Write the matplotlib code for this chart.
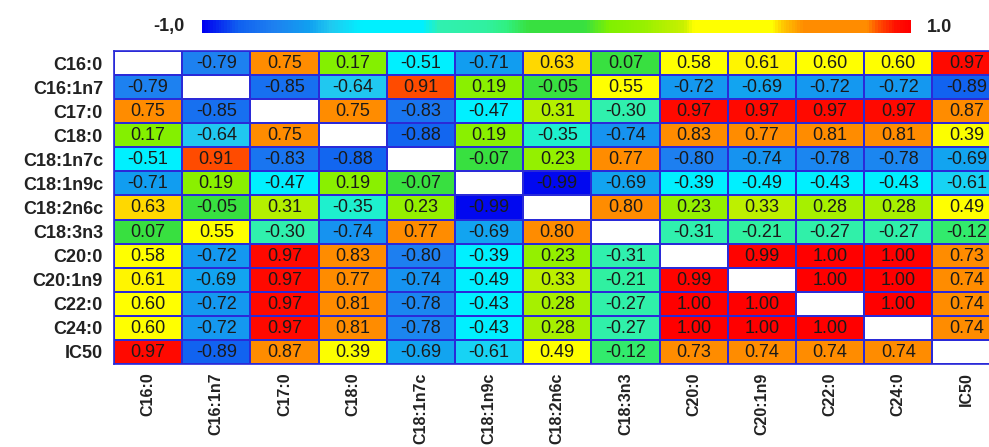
import numpy as np
import matplotlib
matplotlib.use("Agg")
import matplotlib.pyplot as plt
from matplotlib.colors import LinearSegmentedColormap

plt.rcParams['font.family'] = ['Liberation Sans', 'DejaVu Sans']

labels = ['C16:0', 'C16:1n7', 'C17:0', 'C18:0', 'C18:1n7c', 'C18:1n9c',
          'C18:2n6c', 'C18:3n3', 'C20:0', 'C20:1n9', 'C22:0', 'C24:0', 'IC50']

nan = np.nan
r_c16_0   = [nan, -0.79, 0.75, 0.17, -0.51, -0.71, 0.63, 0.07, 0.58, 0.61, 0.60, 0.60, 0.97]
r_c16_1n7 = [-0.79, nan, -0.85, -0.64, 0.91, 0.19, -0.05, 0.55, -0.72, -0.69, -0.72, -0.72, -0.89]
r_c17_0   = [0.75, -0.85, nan, 0.75, -0.83, -0.47, 0.31, -0.30, 0.97, 0.97, 0.97, 0.97, 0.87]
r_c18_0   = [0.17, -0.64, 0.75, nan, -0.88, 0.19, -0.35, -0.74, 0.83, 0.77, 0.81, 0.81, 0.39]
r_c18_1n7 = [-0.51, 0.91, -0.83, -0.88, nan, -0.07, 0.23, 0.77, -0.80, -0.74, -0.78, -0.78, -0.69]
r_c18_1n9 = [-0.71, 0.19, -0.47, 0.19, -0.07, nan, -0.99, -0.69, -0.39, -0.49, -0.43, -0.43, -0.61]
r_c18_2n6 = [0.63, -0.05, 0.31, -0.35, 0.23, -0.99, nan, 0.80, 0.23, 0.33, 0.28, 0.28, 0.49]
r_c18_3n3 = [0.07, 0.55, -0.30, -0.74, 0.77, -0.69, 0.80, nan, -0.31, -0.21, -0.27, -0.27, -0.12]
r_c20_0   = [0.58, -0.72, 0.97, 0.83, -0.80, -0.39, 0.23, -0.31, nan, 0.99, 1.00, 1.00, 0.73]
r_c20_1n9 = [0.61, -0.69, 0.97, 0.77, -0.74, -0.49, 0.33, -0.21, 0.99, nan, 1.00, 1.00, 0.74]
r_c22_0   = [0.60, -0.72, 0.97, 0.81, -0.78, -0.43, 0.28, -0.27, 1.00, 1.00, nan, 1.00, 0.74]
r_c24_0   = [0.60, -0.72, 0.97, 0.81, -0.78, -0.43, 0.28, -0.27, 1.00, 1.00, 1.00, nan, 0.74]
r_ic50    = [0.97, -0.89, 0.87, 0.39, -0.69, -0.61, 0.49, -0.12, 0.73, 0.74, 0.74, 0.74, nan]

corr = np.array([r_c16_0, r_c16_1n7, r_c17_0, r_c18_0, r_c18_1n7, r_c18_1n9,
                 r_c18_2n6, r_c18_3n3, r_c20_0, r_c20_1n9, r_c22_0, r_c24_0, r_ic50])

# colour scale roughly like the original (blue-cyan-green-yellow-orange-red)
stops = [(-1.00, '#0000f0'), (-0.90, '#1060f0'), (-0.80, '#1e80f0'),
         (-0.70, '#10a0f0'), (-0.64, '#20c8f0'), (-0.55, '#00f0ff'),
         (-0.38, '#00f0ff'), (-0.33, '#30f0b0'), (-0.20, '#30f0a0'),
         (-0.14, '#30f080'), (-0.08, '#38e040'), (0.08, '#38e040'),
         (0.15, '#80f000'), (0.25, '#98f000'), (0.30, '#b0f000'),
         (0.36, '#c8f000'), (0.39, '#ffff00'), (0.61, '#ffff00'),
         (0.64, '#ffc800'), (0.70, '#ff8c00'), (0.88, '#ff8c00'),
         (0.91, '#ff5000'), (0.96, '#ff1000'), (1.00, '#ff0000')]
cmap = LinearSegmentedColormap.from_list(
    'corr', [((v + 1) / 2, c) for v, c in stops])
cmap.set_bad('white')

W, H = 989, 447
fig = plt.figure(figsize=(W / 100, H / 100), dpi=100)

# heatmap axes (last column runs off the right edge, as in the original)
x0, x1 = 114, 114 + 68.2 * 13
y0, y1 = 51, 364
ax = fig.add_axes([x0 / W, 1 - y1 / H, (x1 - x0) / W, (y1 - y0) / H])
n = len(labels)
mesh = ax.pcolormesh(np.ma.masked_invalid(corr), cmap=cmap, vmin=-1, vmax=1,
                     edgecolors='#2a2ad8', linewidth=1.2)
ax.set_xlim(0, n)
ax.set_ylim(n, 0)
for s in ax.spines.values():
    s.set_color('#2a2ad8')
    s.set_linewidth(1.2)

for i in range(n):
    for j in range(n):
        v = corr[i, j]
        if not np.isnan(v):
            ax.text(j + 0.5, i + 0.52, f'{v:.2f}', ha='center', va='center',
                    fontsize=13, color='#1a1a1a')

ax.set_xticks(np.arange(n) + 0.5)
ax.set_yticks(np.arange(n) + 0.5)
ax.set_xticklabels(labels, rotation=90, fontsize=11.5, fontweight='bold',
                   color='#222222', va='top')
ax.set_yticklabels(labels, fontsize=13, fontweight='bold', color='#222222')
ax.tick_params(length=0, pad=8)
ax.tick_params(axis='x', pad=6)

# colour bar on top
cax = fig.add_axes([202 / W, 1 - 33 / H, (911 - 202) / W, 13 / H])
cb = fig.colorbar(mesh, cax=cax, orientation='horizontal')
cb.set_ticks([])
cb.outline.set_visible(False)
fig.text(184 / W, 1 - 27 / H, '-1,0', ha='right', va='center',
         fontsize=13, fontweight='bold', color='#222222')
fig.text(927 / W, 1 - 27 / H, '1.0', ha='left', va='center',
         fontsize=13, fontweight='bold', color='#222222')

fig.savefig('out.png', dpi=100)
